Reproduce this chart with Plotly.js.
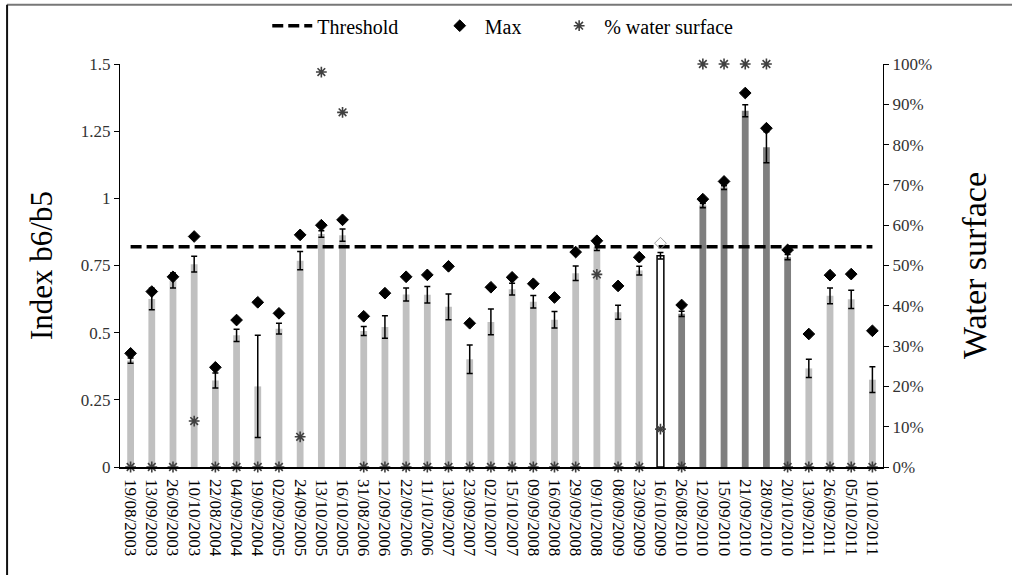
<!DOCTYPE html>
<html>
<head>
<meta charset="utf-8">
<script src="https://cdn.plot.ly/plotly-3.0.1.min.js"></script>
<style>
html,body{margin:0;padding:0;background:#fff;}
#chart{width:1012px;height:575px;}
</style>
</head>
<body>
<div id="chart"></div>
<script>
const dates = ["19/08/2003","13/09/2003","26/09/2003","10/10/2003","22/08/2004","04/09/2004","19/09/2004","02/09/2005","24/09/2005","13/10/2005","16/10/2005","31/08/2006","12/09/2006","22/09/2006","11/10/2006","13/09/2007","23/09/2007","02/10/2007","15/10/2007","09/09/2008","16/09/2008","29/09/2008","09/10/2008","08/09/2009","23/09/2009","16/10/2009","26/08/2010","12/09/2010","15/09/2010","21/09/2010","28/09/2010","20/10/2010","13/09/2011","26/09/2011","05/10/2011","10/10/2011"];
const meanIndex = [0.396,0.625,0.694,0.755,0.322,0.490,0.300,0.515,0.768,0.867,0.863,0.506,0.521,0.642,0.641,0.596,0.401,0.540,0.662,0.615,0.548,0.721,0.818,0.576,0.731,0.786,0.570,0.973,1.040,1.326,1.190,0.781,0.367,0.637,0.624,0.325];
const stdIndex = [0.010,0.040,0.028,0.029,0.028,0.023,0.190,0.020,0.034,0.012,0.023,0.017,0.042,0.024,0.031,0.048,0.053,0.048,0.022,0.023,0.031,0.027,0.012,0.026,0.016,0.012,0.010,0.008,0.007,0.022,0.058,0.010,0.034,0.029,0.034,0.048];
const maxIndex = [0.423,0.653,0.708,0.858,0.371,0.547,0.613,0.572,0.864,0.900,0.920,0.561,0.647,0.708,0.715,0.747,0.535,0.669,0.706,0.682,0.631,0.800,0.842,0.674,0.781,0.833,0.603,0.997,1.063,1.392,1.261,0.808,0.495,0.714,0.718,0.507];
const waterSurface = [0,0,0,0.114,0,0,0,0,0.075,0.98,0.88,0,0,0,0,0,0,0,0,0,0,0,0.478,0,0,0.094,0,1,1,1,1,0,0,0,0,0];
const thresholdValue = 0.82;
const yTicks = [0,0.25,0.5,0.75,1,1.25,1.5];
const yTickText = ["0","0.25","0.5","0.75","1","1.25","1.5"];

const special = "16/10/2009";
const darkSet = ["26/08/2010","12/09/2010","15/09/2010","21/09/2010","28/09/2010","20/10/2010"];
const barFill = dates.map(d => d === special ? "#ffffff" : (darkSet.includes(d) ? "#7f7f7f" : "#c0c0c0"));
const barLineColor = dates.map(d => d === special ? "#000000" : "rgba(0,0,0,0)");
const barLineWidth = dates.map(d => d === special ? 1.5 : 0);
const maxSymbol = dates.map(d => d === special ? "diamond-open" : "diamond");
const maxColor = dates.map(d => d === special ? "#a0a0a0" : "#000000");

const F = "Liberation Serif, Times New Roman, serif";

const traces = [
  {
    type: "bar", x: dates, y: meanIndex, width: 0.32,
    marker: {color: barFill, line: {color: barLineColor, width: barLineWidth}},
    error_y: {type: "data", array: stdIndex, visible: true, color: "#000", thickness: 1.5, width: 3},
    showlegend: false, hoverinfo: "x+y"
  },
  {
    type: "scatter", mode: "lines", name: "Threshold", legend: "legend",
    x: [dates[0], dates[dates.length-1]], y: [thresholdValue, thresholdValue],
    line: {color: "#000", width: 3.5, dash: "11px,5px"}
  },
  {
    type: "scatter", mode: "markers", name: "Max", legend: "legend2", x: dates, y: maxIndex,
    marker: {symbol: maxSymbol, size: 9, color: maxColor, line: {color: maxColor, width: 1}},
    cliponaxis: false
  },
  {
    type: "scatter", mode: "markers", name: "% water surface", legend: "legend3", x: dates, y: waterSurface, yaxis: "y2",
    marker: {symbol: "asterisk-open", size: 9, color: "#404040", line: {color: "#404040", width: 1.6}},
    cliponaxis: false
  }
];

const legBase = {orientation: "h", xanchor: "left", y: 1.095, yanchor: "middle",
  font: {family: F, size: 20, color: "#000"}, bgcolor: "rgba(0,0,0,0)", itemwidth: 40};

const layout = {
  width: 1012, height: 575,
  margin: {l: 120, r: 129, t: 64, b: 108, autoexpand: false},
  paper_bgcolor: "#fff", plot_bgcolor: "#fff",
  font: {family: F, color: "#000"},
  barmode: "overlay",
  showlegend: true,
  legend: Object.assign({}, legBase, {x: 0.193}),
  legend2: Object.assign({}, legBase, {x: 0.4125}),
  legend3: Object.assign({}, legBase, {x: 0.569}),
  xaxis: {
    type: "category", range: [-0.5, dates.length - 0.5],
    tickangle: 90, tickfont: {family: F, size: 17, color: "#000"},
    showline: true, linecolor: "#000", linewidth: 1.5, ticks: "outside", ticklen: 7, tickcolor: "rgba(0,0,0,0)",
    showgrid: false, zeroline: false, fixedrange: true
  },
  yaxis: {
    range: [0, 1.5], tickvals: yTicks, ticktext: yTickText,
    tickfont: {family: F, size: 17, color: "#333"},
    showline: true, linecolor: "#000", linewidth: 1.2, ticks: "outside", ticklen: 5, tickcolor: "#000",
    showgrid: false, zeroline: false,
    title: {text: "Index b6/b5", font: {family: F, size: 31, color: "#000"}, standoff: 18}
  },
  yaxis2: {
    overlaying: "y", side: "right", range: [0, 1], dtick: 0.1, tickformat: ".0%",
    tickfont: {family: F, size: 17, color: "#333"},
    showline: true, linecolor: "#000", linewidth: 1.2, ticks: "outside", ticklen: 5, tickcolor: "#000",
    showgrid: false, zeroline: false,
    title: {text: "Water surface", font: {family: F, size: 34, color: "#000"}, standoff: 31}
  },
  shapes: [
    {type: "line", xref: "paper", yref: "paper", x0: -0.148, x1: 1.2, y0: 1.147, y1: 1.147, line: {color: "#777", width: 2}},
    {type: "line", xref: "paper", yref: "paper", x0: -0.148, x1: -0.148, y0: 1.147, y1: -0.27, line: {color: "#111", width: 2}}
  ]
};

Plotly.newPlot("chart", traces, layout, {displayModeBar: false, staticPlot: true});
</script>
</body>
</html>
